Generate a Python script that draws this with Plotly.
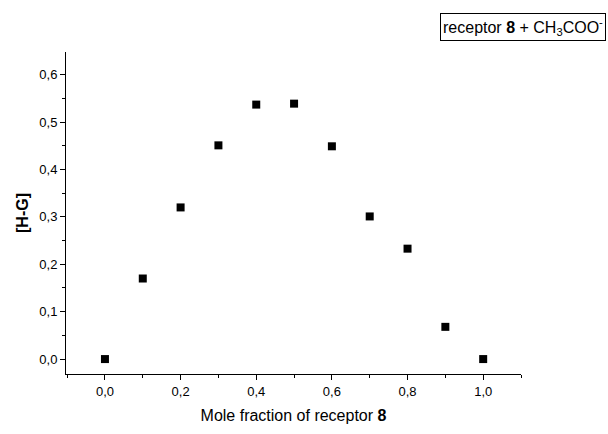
import plotly.graph_objects as go

# Job plot data: mole fraction of receptor vs complex concentration
mole_fraction = [0.0, 0.1, 0.2, 0.3, 0.4, 0.5, 0.6, 0.7, 0.8, 0.9, 1.0]
hg_complex = [0.0, 0.17, 0.32, 0.451, 0.537, 0.539, 0.449, 0.301, 0.233, 0.068, 0.0]

legend_text = "receptor <b>8</b> + CH<sub>3</sub>COO<sup>-</sup>"
x_title = "Mole fraction of receptor <b>8</b>"
y_title = "<b>[H-G]</b>"

FONT = "Liberation Sans, Arial"

fig = go.Figure()
fig.add_trace(go.Scatter(
    x=mole_fraction, y=hg_complex, mode="markers",
    marker=dict(symbol="square", size=8, color="black",
                line=dict(width=0)),
    showlegend=False,
))

axis_common = dict(
    showgrid=False, zeroline=False, showline=True, linecolor="black",
    linewidth=1, ticks="outside", ticklen=5, tickwidth=1, tickcolor="black",
    tickfont=dict(family=FONT, size=13, color="black"),
    tickformat=".1f", mirror=False,
)

fig.update_xaxes(
    range=[-0.103, 1.1], dtick=0.2, tick0=0,
    minor=dict(dtick=0.1, ticks="outside", ticklen=3, tickcolor="black"),
    title=dict(text=x_title, standoff=12,
               font=dict(family=FONT, size=16, color="black")),
    **axis_common,
)
fig.update_yaxes(
    range=[-0.0315, 0.648], dtick=0.1, tick0=0,
    minor=dict(dtick=0.05, ticks="outside", ticklen=3, tickcolor="black"),
    title=dict(text=y_title, standoff=6,
               font=dict(family=FONT, size=16, color="black")),
    **axis_common,
)

fig.add_annotation(
    text=legend_text, xref="paper", yref="paper",
    x=1.187, y=1.12, xanchor="right", yanchor="top", showarrow=False,
    font=dict(family=FONT, size=16, color="black"),
    bordercolor="black", borderwidth=1, borderpad=2, bgcolor="white",
    align="left",
)

fig.update_layout(
    width=608, height=434,
    margin=dict(l=66, r=87, t=52, b=58),
    paper_bgcolor="white", plot_bgcolor="white",
    separators=",.",
)

fig.write_html("out.html")
